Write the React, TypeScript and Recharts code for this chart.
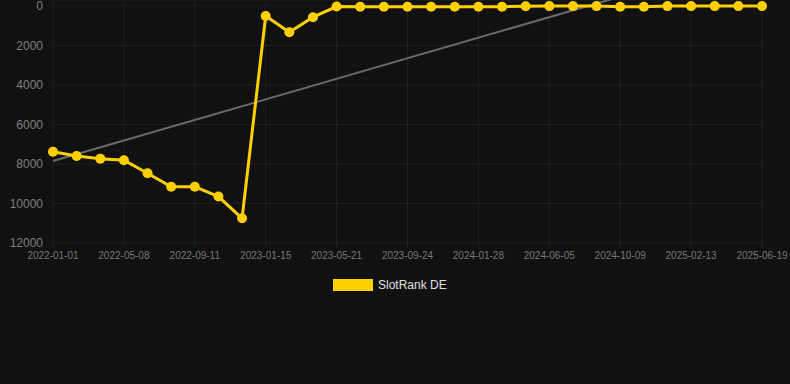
import React from "react";
import { LineChart, Line, XAxis, YAxis, CartesianGrid, Legend } from "recharts";

const dates = [
  "2022-01-01", "2022-02-12", "2022-03-26", "2022-05-08", "2022-06-19", "2022-07-31",
  "2022-09-11", "2022-10-23", "2022-12-04", "2023-01-15", "2023-02-26", "2023-04-09",
  "2023-05-21", "2023-07-02", "2023-08-13", "2023-09-24", "2023-11-05", "2023-12-17",
  "2024-01-28", "2024-03-10", "2024-04-22", "2024-06-05", "2024-07-17", "2024-08-28",
  "2024-10-09", "2024-11-20", "2025-01-01", "2025-02-13", "2025-03-27", "2025-05-08",
  "2025-06-19",
];

const rank = [
  7380, 7600, 7730, 7810, 8470, 9150, 9150, 9650, 10750, 510, 1330, 570,
  30, 40, 40, 40, 40, 40, 40, 40, 20, 10, 10, 10, 40, 40, 10, 10, 10, 10, 10,
];

// regression trend, only the two ends are known
const trend: (number | null)[] = dates.map(() => null);
trend[0] = 7850;
trend[dates.length - 1] = -2550;

const yTicks = [0, 2000, 4000, 6000, 8000, 10000, 12000];

const data = dates.map((d, i) => ({ date: d, rank: rank[i], trend: trend[i] }));

const YELLOW = "#FFD000";

function LegendBox() {
  return (
    <div style={{ height: 33, position: "relative" }}>
      <div style={{ position: "absolute", left: 333, top: 12, width: 40, height: 12, background: YELLOW }} />
      <div
        style={{
          position: "absolute",
          left: 378,
          top: 10,
          fontSize: 12,
          lineHeight: "16px",
          color: "#e0e0e0",
          fontFamily: "Liberation Sans, Arial, sans-serif",
        }}
      >
        SlotRank DE
      </div>
    </div>
  );
}

export default function App() {
  return (
    <div style={{ position: "fixed", inset: 0, background: "#111111" }}>
      <LineChart width={790} height={300} data={data} margin={{ top: 0, right: 28, left: 0, bottom: 0 }}>
        <CartesianGrid stroke="#202020" />
        <XAxis
          dataKey="date"
          interval={2}
          tick={{ fill: "#777777", fontSize: 10, fontFamily: "Liberation Sans, Arial, sans-serif" }}
          tickLine={{ stroke: "#202020" }}
          axisLine={false}
          tickSize={5}
          tickMargin={4}
          height={24}
        />
        <YAxis
          reversed
          domain={[-300, 12000]}
          ticks={yTicks}
          interval={0}
          allowDataOverflow
          width={53}
          tick={{ fill: "#808080", fontSize: 12, fontFamily: "Liberation Sans, Arial, sans-serif" }}
          tickLine={false}
          axisLine={false}
          tickSize={0}
          tickMargin={10}
        />
        <Legend verticalAlign="bottom" content={() => <LegendBox />} wrapperStyle={{ height: 33 }} />
        <Line
          dataKey="trend"
          stroke="#6a6a6a"
          strokeWidth={2}
          dot={false}
          connectNulls
          legendType="none"
          isAnimationActive={false}
        />
        <Line
          dataKey="rank"
          name="SlotRank DE"
          stroke={YELLOW}
          strokeWidth={3}
          dot={{ r: 5, fill: YELLOW, stroke: YELLOW, strokeWidth: 0 }}
          activeDot={false}
          isAnimationActive={false}
        />
      </LineChart>
    </div>
  );
}
